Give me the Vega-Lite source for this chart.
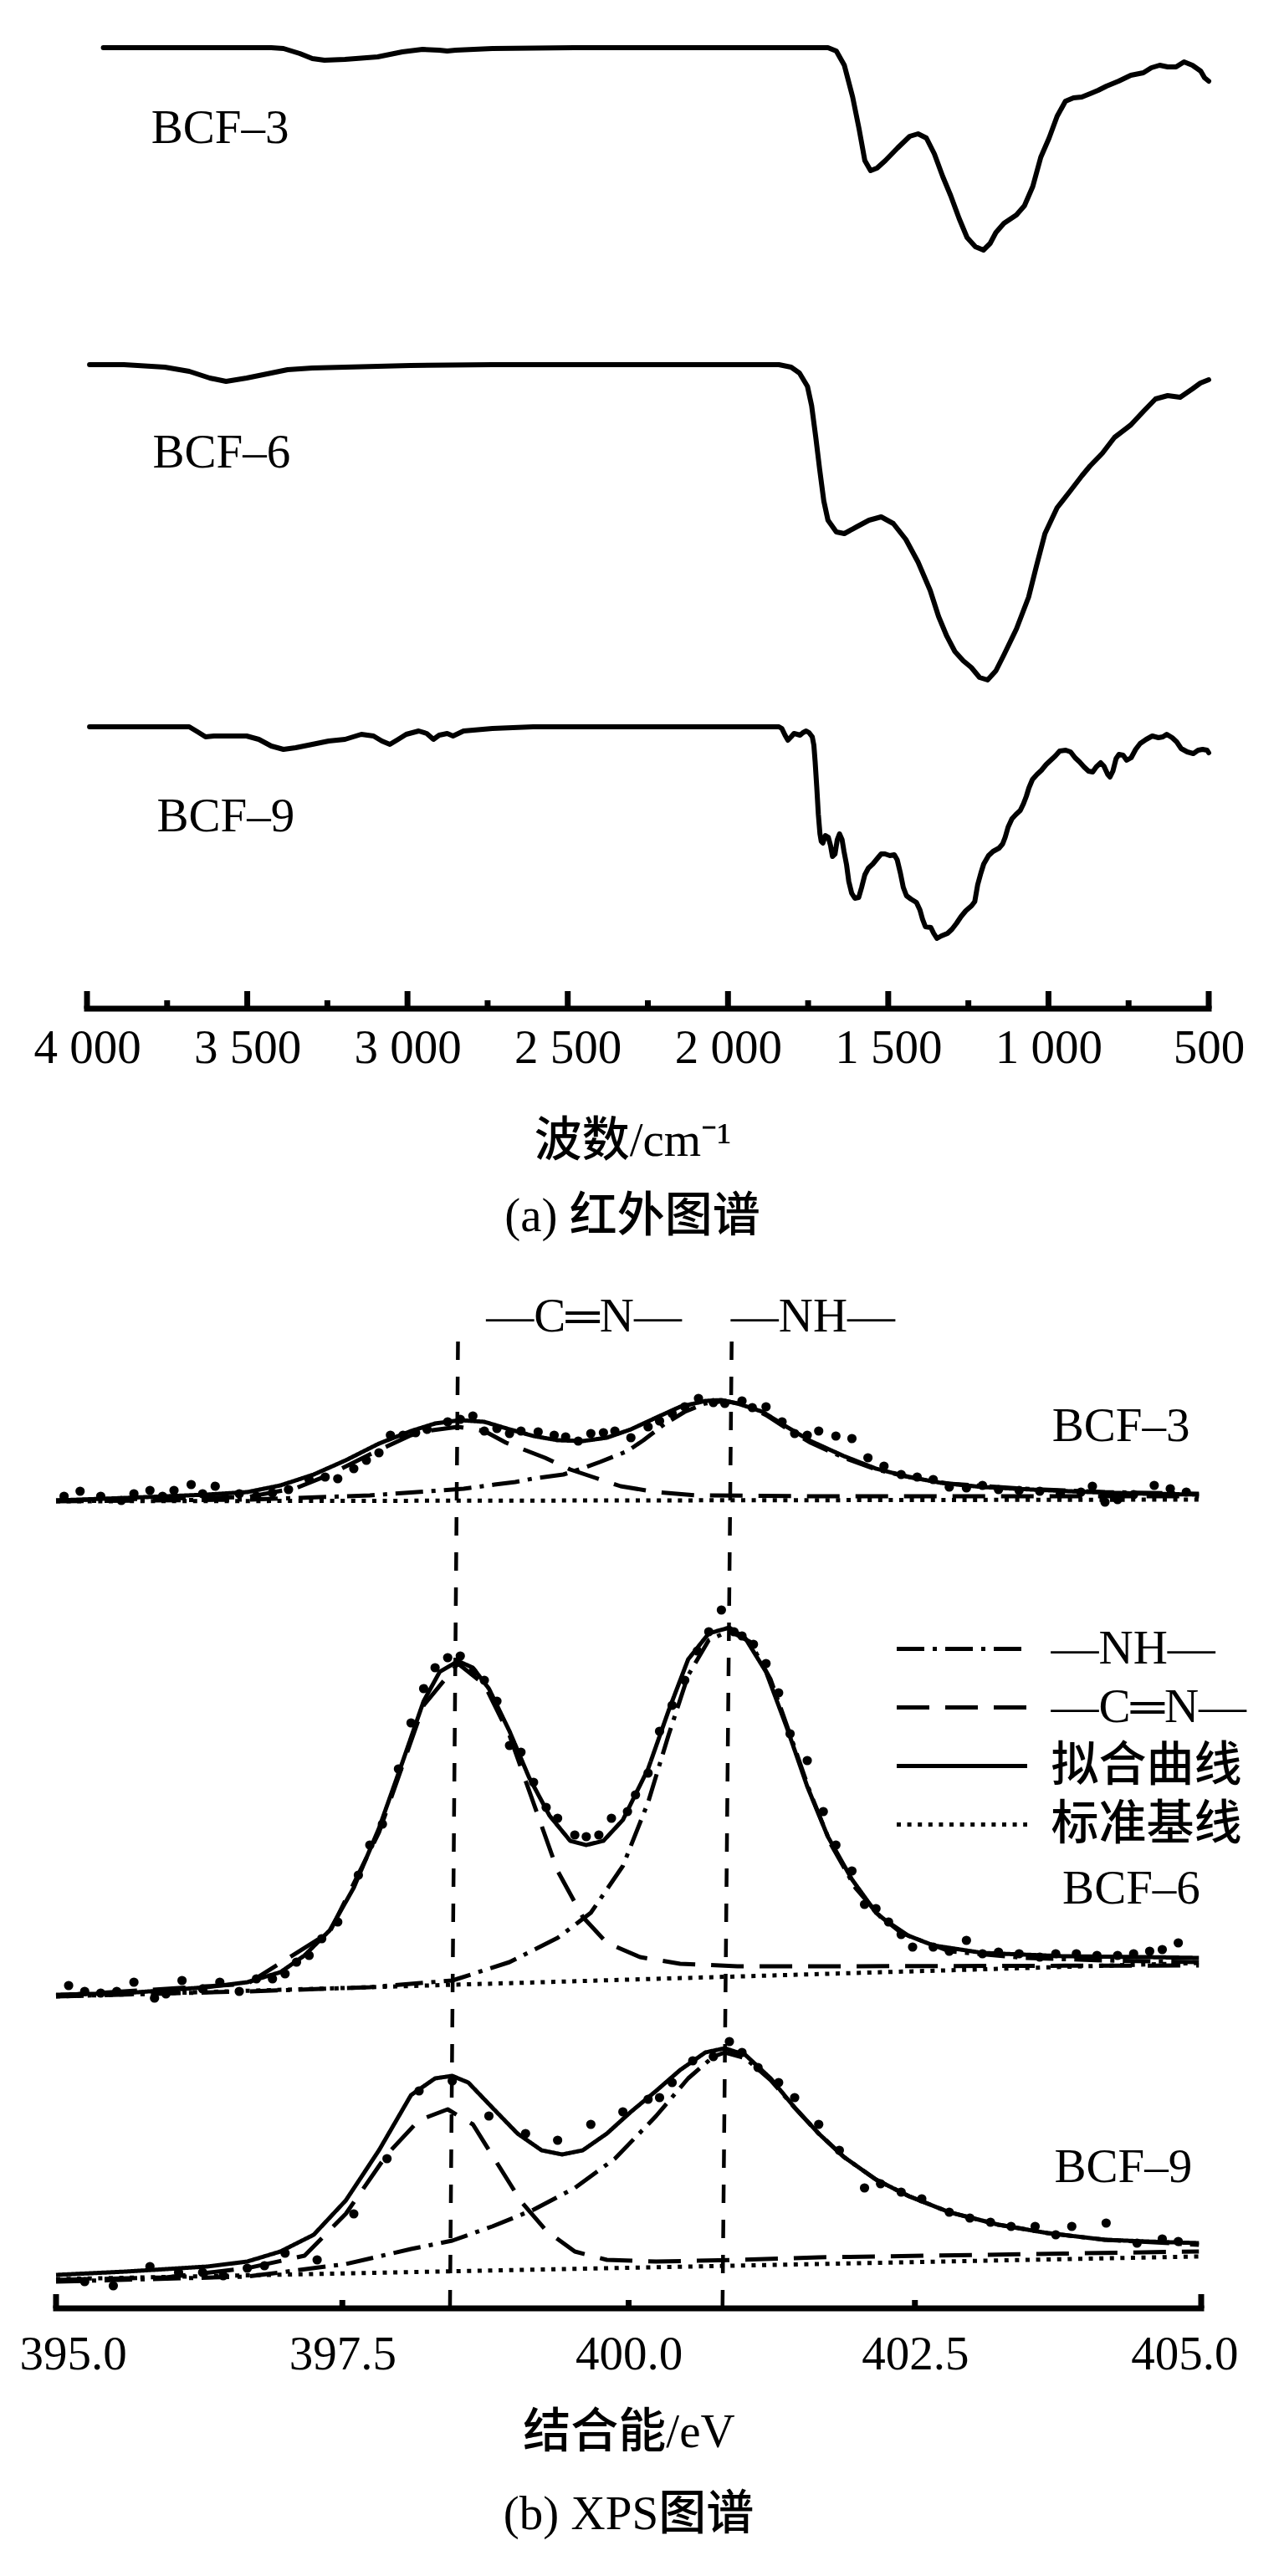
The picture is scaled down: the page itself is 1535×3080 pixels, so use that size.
{
  "$schema": "https://vega.github.io/schema/vega-lite/v6.json",
  "description": "IR and XPS spectra of BCF-3/6/9, stacked panels",
  "background": "white",
  "padding": {"left": 23, "top": 40, "right": 5, "bottom": 5},
  "bounds": "flush",
  "spacing": 334,
  "config": {
    "view": {"stroke": null},
    "font": "Liberation Serif, Noto Sans CJK SC",
    "axis": {
      "labelFont": "Liberation Serif",
      "labelFontSize": 57,
      "labelColor": "black",
      "titleFont": "Liberation Serif, Noto Sans CJK SC",
      "titleFontSize": 57,
      "titleFontWeight": 500,
      "titleColor": "black",
      "grid": false,
      "ticks": false,
      "tickSize": 0,
      "domain": false,
      "labelOverlap": false
    },
    "title": {"font": "Liberation Serif, Noto Sans CJK SC", "fontSize": 57, "fontWeight": 500, "color": "black"}
  },
  "datasets": {
    "ir": [
      {"s": "BCF-3", "wn": 3949, "t": 1149}, {"s": "BCF-3", "wn": 3425, "t": 1149}, {"s": "BCF-3", "wn": 3387, "t": 1148},
      {"s": "BCF-3", "wn": 3336, "t": 1142}, {"s": "BCF-3", "wn": 3297, "t": 1136}, {"s": "BCF-3", "wn": 3259, "t": 1134},
      {"s": "BCF-3", "wn": 3195, "t": 1135}, {"s": "BCF-3", "wn": 3093, "t": 1138}, {"s": "BCF-3", "wn": 3016, "t": 1144},
      {"s": "BCF-3", "wn": 2953, "t": 1147}, {"s": "BCF-3", "wn": 2901, "t": 1146}, {"s": "BCF-3", "wn": 2876, "t": 1145},
      {"s": "BCF-3", "wn": 2850, "t": 1146}, {"s": "BCF-3", "wn": 2735, "t": 1148}, {"s": "BCF-3", "wn": 2480, "t": 1149},
      {"s": "BCF-3", "wn": 1688, "t": 1149}, {"s": "BCF-3", "wn": 1662, "t": 1145}, {"s": "BCF-3", "wn": 1637, "t": 1128},
      {"s": "BCF-3", "wn": 1611, "t": 1090}, {"s": "BCF-3", "wn": 1591, "t": 1052}, {"s": "BCF-3", "wn": 1573, "t": 1014},
      {"s": "BCF-3", "wn": 1555, "t": 1002}, {"s": "BCF-3", "wn": 1535, "t": 1005}, {"s": "BCF-3", "wn": 1509, "t": 1014},
      {"s": "BCF-3", "wn": 1471, "t": 1029}, {"s": "BCF-3", "wn": 1433, "t": 1043}, {"s": "BCF-3", "wn": 1407, "t": 1046},
      {"s": "BCF-3", "wn": 1381, "t": 1041}, {"s": "BCF-3", "wn": 1356, "t": 1022}, {"s": "BCF-3", "wn": 1330, "t": 995},
      {"s": "BCF-3", "wn": 1305, "t": 972}, {"s": "BCF-3", "wn": 1279, "t": 945}, {"s": "BCF-3", "wn": 1254, "t": 922},
      {"s": "BCF-3", "wn": 1228, "t": 911}, {"s": "BCF-3", "wn": 1203, "t": 907}, {"s": "BCF-3", "wn": 1182, "t": 915},
      {"s": "BCF-3", "wn": 1164, "t": 928}, {"s": "BCF-3", "wn": 1139, "t": 939}, {"s": "BCF-3", "wn": 1100, "t": 949},
      {"s": "BCF-3", "wn": 1075, "t": 960}, {"s": "BCF-3", "wn": 1049, "t": 983}, {"s": "BCF-3", "wn": 1024, "t": 1018},
      {"s": "BCF-3", "wn": 998, "t": 1041}, {"s": "BCF-3", "wn": 973, "t": 1067}, {"s": "BCF-3", "wn": 947, "t": 1085},
      {"s": "BCF-3", "wn": 922, "t": 1089}, {"s": "BCF-3", "wn": 896, "t": 1090}, {"s": "BCF-3", "wn": 870, "t": 1094},
      {"s": "BCF-3", "wn": 845, "t": 1098}, {"s": "BCF-3", "wn": 819, "t": 1103}, {"s": "BCF-3", "wn": 781, "t": 1109},
      {"s": "BCF-3", "wn": 743, "t": 1116}, {"s": "BCF-3", "wn": 704, "t": 1119}, {"s": "BCF-3", "wn": 679, "t": 1125},
      {"s": "BCF-3", "wn": 653, "t": 1128}, {"s": "BCF-3", "wn": 628, "t": 1126}, {"s": "BCF-3", "wn": 602, "t": 1126},
      {"s": "BCF-3", "wn": 577, "t": 1132}, {"s": "BCF-3", "wn": 551, "t": 1128}, {"s": "BCF-3", "wn": 525, "t": 1121},
      {"s": "BCF-3", "wn": 513, "t": 1113}, {"s": "BCF-3", "wn": 500, "t": 1109},

      {"s": "BCF-6", "wn": 3992, "t": 770}, {"s": "BCF-6", "wn": 3885, "t": 770}, {"s": "BCF-6", "wn": 3757, "t": 767},
      {"s": "BCF-6", "wn": 3681, "t": 762}, {"s": "BCF-6", "wn": 3617, "t": 754}, {"s": "BCF-6", "wn": 3566, "t": 750},
      {"s": "BCF-6", "wn": 3502, "t": 754}, {"s": "BCF-6", "wn": 3425, "t": 760}, {"s": "BCF-6", "wn": 3374, "t": 764},
      {"s": "BCF-6", "wn": 3297, "t": 766}, {"s": "BCF-6", "wn": 3195, "t": 767}, {"s": "BCF-6", "wn": 2991, "t": 769},
      {"s": "BCF-6", "wn": 2735, "t": 770}, {"s": "BCF-6", "wn": 1841, "t": 770}, {"s": "BCF-6", "wn": 1803, "t": 767},
      {"s": "BCF-6", "wn": 1777, "t": 760}, {"s": "BCF-6", "wn": 1752, "t": 744}, {"s": "BCF-6", "wn": 1739, "t": 721},
      {"s": "BCF-6", "wn": 1726, "t": 683}, {"s": "BCF-6", "wn": 1714, "t": 645}, {"s": "BCF-6", "wn": 1701, "t": 607},
      {"s": "BCF-6", "wn": 1688, "t": 584}, {"s": "BCF-6", "wn": 1662, "t": 570}, {"s": "BCF-6", "wn": 1637, "t": 568},
      {"s": "BCF-6", "wn": 1599, "t": 576}, {"s": "BCF-6", "wn": 1560, "t": 584}, {"s": "BCF-6", "wn": 1522, "t": 588},
      {"s": "BCF-6", "wn": 1484, "t": 580}, {"s": "BCF-6", "wn": 1445, "t": 561}, {"s": "BCF-6", "wn": 1407, "t": 534},
      {"s": "BCF-6", "wn": 1369, "t": 500}, {"s": "BCF-6", "wn": 1343, "t": 469}, {"s": "BCF-6", "wn": 1318, "t": 446},
      {"s": "BCF-6", "wn": 1292, "t": 427}, {"s": "BCF-6", "wn": 1266, "t": 416}, {"s": "BCF-6", "wn": 1241, "t": 408},
      {"s": "BCF-6", "wn": 1215, "t": 396}, {"s": "BCF-6", "wn": 1190, "t": 393}, {"s": "BCF-6", "wn": 1164, "t": 404},
      {"s": "BCF-6", "wn": 1139, "t": 423}, {"s": "BCF-6", "wn": 1100, "t": 454}, {"s": "BCF-6", "wn": 1062, "t": 492},
      {"s": "BCF-6", "wn": 1037, "t": 530}, {"s": "BCF-6", "wn": 1011, "t": 568}, {"s": "BCF-6", "wn": 973, "t": 599},
      {"s": "BCF-6", "wn": 934, "t": 618}, {"s": "BCF-6", "wn": 896, "t": 637}, {"s": "BCF-6", "wn": 870, "t": 649},
      {"s": "BCF-6", "wn": 832, "t": 664}, {"s": "BCF-6", "wn": 794, "t": 683}, {"s": "BCF-6", "wn": 743, "t": 698},
      {"s": "BCF-6", "wn": 704, "t": 714}, {"s": "BCF-6", "wn": 666, "t": 729}, {"s": "BCF-6", "wn": 628, "t": 733},
      {"s": "BCF-6", "wn": 589, "t": 731}, {"s": "BCF-6", "wn": 551, "t": 741}, {"s": "BCF-6", "wn": 526, "t": 748},
      {"s": "BCF-6", "wn": 500, "t": 752},

      {"s": "BCF-9", "wn": 3992, "t": 337}, {"s": "BCF-9", "wn": 3681, "t": 337}, {"s": "BCF-9", "wn": 3655, "t": 331},
      {"s": "BCF-9", "wn": 3630, "t": 325}, {"s": "BCF-9", "wn": 3604, "t": 326}, {"s": "BCF-9", "wn": 3502, "t": 326},
      {"s": "BCF-9", "wn": 3464, "t": 322}, {"s": "BCF-9", "wn": 3425, "t": 314}, {"s": "BCF-9", "wn": 3387, "t": 310},
      {"s": "BCF-9", "wn": 3349, "t": 312}, {"s": "BCF-9", "wn": 3297, "t": 316}, {"s": "BCF-9", "wn": 3246, "t": 320},
      {"s": "BCF-9", "wn": 3195, "t": 322}, {"s": "BCF-9", "wn": 3144, "t": 328}, {"s": "BCF-9", "wn": 3106, "t": 326},
      {"s": "BCF-9", "wn": 3080, "t": 320}, {"s": "BCF-9", "wn": 3055, "t": 316}, {"s": "BCF-9", "wn": 3029, "t": 322},
      {"s": "BCF-9", "wn": 3004, "t": 328}, {"s": "BCF-9", "wn": 2965, "t": 332}, {"s": "BCF-9", "wn": 2940, "t": 329},
      {"s": "BCF-9", "wn": 2919, "t": 322}, {"s": "BCF-9", "wn": 2901, "t": 327}, {"s": "BCF-9", "wn": 2876, "t": 329},
      {"s": "BCF-9", "wn": 2858, "t": 326}, {"s": "BCF-9", "wn": 2825, "t": 332}, {"s": "BCF-9", "wn": 2735, "t": 335},
      {"s": "BCF-9", "wn": 2608, "t": 337}, {"s": "BCF-9", "wn": 1841, "t": 337}, {"s": "BCF-9", "wn": 1832, "t": 335},
      {"s": "BCF-9", "wn": 1822, "t": 327}, {"s": "BCF-9", "wn": 1813, "t": 321}, {"s": "BCF-9", "wn": 1803, "t": 325},
      {"s": "BCF-9", "wn": 1794, "t": 329}, {"s": "BCF-9", "wn": 1784, "t": 328}, {"s": "BCF-9", "wn": 1775, "t": 327},
      {"s": "BCF-9", "wn": 1766, "t": 330}, {"s": "BCF-9", "wn": 1756, "t": 332}, {"s": "BCF-9", "wn": 1747, "t": 330},
      {"s": "BCF-9", "wn": 1737, "t": 325}, {"s": "BCF-9", "wn": 1732, "t": 315}, {"s": "BCF-9", "wn": 1728, "t": 295},
      {"s": "BCF-9", "wn": 1723, "t": 265}, {"s": "BCF-9", "wn": 1718, "t": 232}, {"s": "BCF-9", "wn": 1713, "t": 209},
      {"s": "BCF-9", "wn": 1709, "t": 200}, {"s": "BCF-9", "wn": 1704, "t": 198}, {"s": "BCF-9", "wn": 1696, "t": 207},
      {"s": "BCF-9", "wn": 1687, "t": 205}, {"s": "BCF-9", "wn": 1680, "t": 195}, {"s": "BCF-9", "wn": 1674, "t": 182},
      {"s": "BCF-9", "wn": 1666, "t": 185}, {"s": "BCF-9", "wn": 1659, "t": 202}, {"s": "BCF-9", "wn": 1652, "t": 209},
      {"s": "BCF-9", "wn": 1644, "t": 202}, {"s": "BCF-9", "wn": 1638, "t": 188}, {"s": "BCF-9", "wn": 1630, "t": 172},
      {"s": "BCF-9", "wn": 1623, "t": 152}, {"s": "BCF-9", "wn": 1614, "t": 138}, {"s": "BCF-9", "wn": 1604, "t": 132},
      {"s": "BCF-9", "wn": 1592, "t": 133}, {"s": "BCF-9", "wn": 1583, "t": 145}, {"s": "BCF-9", "wn": 1573, "t": 160},
      {"s": "BCF-9", "wn": 1562, "t": 168}, {"s": "BCF-9", "wn": 1548, "t": 173}, {"s": "BCF-9", "wn": 1533, "t": 180},
      {"s": "BCF-9", "wn": 1522, "t": 185}, {"s": "BCF-9", "wn": 1510, "t": 185}, {"s": "BCF-9", "wn": 1495, "t": 183},
      {"s": "BCF-9", "wn": 1481, "t": 184}, {"s": "BCF-9", "wn": 1472, "t": 178}, {"s": "BCF-9", "wn": 1462, "t": 162},
      {"s": "BCF-9", "wn": 1453, "t": 145}, {"s": "BCF-9", "wn": 1443, "t": 135}, {"s": "BCF-9", "wn": 1429, "t": 131},
      {"s": "BCF-9", "wn": 1412, "t": 127}, {"s": "BCF-9", "wn": 1401, "t": 118}, {"s": "BCF-9", "wn": 1393, "t": 107},
      {"s": "BCF-9", "wn": 1384, "t": 98}, {"s": "BCF-9", "wn": 1367, "t": 97}, {"s": "BCF-9", "wn": 1358, "t": 90},
      {"s": "BCF-9", "wn": 1348, "t": 84}, {"s": "BCF-9", "wn": 1334, "t": 87}, {"s": "BCF-9", "wn": 1315, "t": 90},
      {"s": "BCF-9", "wn": 1301, "t": 95}, {"s": "BCF-9", "wn": 1287, "t": 102}, {"s": "BCF-9", "wn": 1273, "t": 110},
      {"s": "BCF-9", "wn": 1258, "t": 117}, {"s": "BCF-9", "wn": 1240, "t": 123}, {"s": "BCF-9", "wn": 1230, "t": 128},
      {"s": "BCF-9", "wn": 1221, "t": 148}, {"s": "BCF-9", "wn": 1211, "t": 162}, {"s": "BCF-9", "wn": 1202, "t": 173},
      {"s": "BCF-9", "wn": 1187, "t": 183}, {"s": "BCF-9", "wn": 1173, "t": 188}, {"s": "BCF-9", "wn": 1154, "t": 192},
      {"s": "BCF-9", "wn": 1143, "t": 197}, {"s": "BCF-9", "wn": 1135, "t": 205}, {"s": "BCF-9", "wn": 1126, "t": 217},
      {"s": "BCF-9", "wn": 1114, "t": 227}, {"s": "BCF-9", "wn": 1102, "t": 232}, {"s": "BCF-9", "wn": 1088, "t": 237},
      {"s": "BCF-9", "wn": 1078, "t": 245}, {"s": "BCF-9", "wn": 1069, "t": 254}, {"s": "BCF-9", "wn": 1061, "t": 264},
      {"s": "BCF-9", "wn": 1050, "t": 274}, {"s": "BCF-9", "wn": 1036, "t": 280}, {"s": "BCF-9", "wn": 1022, "t": 285},
      {"s": "BCF-9", "wn": 1007, "t": 292}, {"s": "BCF-9", "wn": 993, "t": 297}, {"s": "BCF-9", "wn": 979, "t": 302},
      {"s": "BCF-9", "wn": 965, "t": 308}, {"s": "BCF-9", "wn": 946, "t": 309}, {"s": "BCF-9", "wn": 931, "t": 307},
      {"s": "BCF-9", "wn": 917, "t": 300}, {"s": "BCF-9", "wn": 903, "t": 295}, {"s": "BCF-9", "wn": 889, "t": 289},
      {"s": "BCF-9", "wn": 875, "t": 284}, {"s": "BCF-9", "wn": 862, "t": 283}, {"s": "BCF-9", "wn": 851, "t": 289},
      {"s": "BCF-9", "wn": 837, "t": 294}, {"s": "BCF-9", "wn": 827, "t": 290}, {"s": "BCF-9", "wn": 815, "t": 280},
      {"s": "BCF-9", "wn": 808, "t": 277}, {"s": "BCF-9", "wn": 799, "t": 284}, {"s": "BCF-9", "wn": 789, "t": 299},
      {"s": "BCF-9", "wn": 780, "t": 304}, {"s": "BCF-9", "wn": 767, "t": 303}, {"s": "BCF-9", "wn": 756, "t": 297},
      {"s": "BCF-9", "wn": 742, "t": 300}, {"s": "BCF-9", "wn": 728, "t": 310}, {"s": "BCF-9", "wn": 714, "t": 317},
      {"s": "BCF-9", "wn": 695, "t": 322}, {"s": "BCF-9", "wn": 676, "t": 326}, {"s": "BCF-9", "wn": 657, "t": 324},
      {"s": "BCF-9", "wn": 643, "t": 325}, {"s": "BCF-9", "wn": 631, "t": 328}, {"s": "BCF-9", "wn": 614, "t": 324},
      {"s": "BCF-9", "wn": 600, "t": 319}, {"s": "BCF-9", "wn": 586, "t": 311}, {"s": "BCF-9", "wn": 567, "t": 307},
      {"s": "BCF-9", "wn": 548, "t": 305}, {"s": "BCF-9", "wn": 533, "t": 309}, {"s": "BCF-9", "wn": 519, "t": 310},
      {"s": "BCF-9", "wn": 505, "t": 309}, {"s": "BCF-9", "wn": 500, "t": 306}
    ],
    "irLabels": [
      {"label": "BCF–3", "wn": 3585, "t": 1052},
      {"label": "BCF–6", "wn": 3580, "t": 664},
      {"label": "BCF–9", "wn": 3567, "t": 229}
    ],
    "irTicks": [
      {"wn": 4000, "t": 0, "k": "major"}, {"wn": 3500, "t": 0, "k": "major"}, {"wn": 3000, "t": 0, "k": "major"},
      {"wn": 2500, "t": 0, "k": "major"}, {"wn": 2000, "t": 0, "k": "major"}, {"wn": 1500, "t": 0, "k": "major"},
      {"wn": 1000, "t": 0, "k": "major"}, {"wn": 500, "t": 0, "k": "major"},
      {"wn": 3750, "t": 0, "k": "minor"}, {"wn": 3250, "t": 0, "k": "minor"}, {"wn": 2750, "t": 0, "k": "minor"},
      {"wn": 2250, "t": 0, "k": "minor"}, {"wn": 1750, "t": 0, "k": "minor"}, {"wn": 1250, "t": 0, "k": "minor"},
      {"wn": 750, "t": 0, "k": "minor"}
    ],
    "irAxis": [{"wn": 4000, "t": 0}, {"wn": 500, "t": 0}],
    "xps": [
      {"s": "BCF-3", "c": "拟合曲线", "e": 395.00, "v": 966}, {"s": "BCF-3", "c": "拟合曲线", "e": 395.61, "v": 969},
      {"s": "BCF-3", "c": "拟合曲线", "e": 396.32, "v": 973}, {"s": "BCF-3", "c": "拟合曲线", "e": 396.67, "v": 976},
      {"s": "BCF-3", "c": "拟合曲线", "e": 396.96, "v": 984}, {"s": "BCF-3", "c": "拟合曲线", "e": 397.25, "v": 997},
      {"s": "BCF-3", "c": "拟合曲线", "e": 397.53, "v": 1014}, {"s": "BCF-3", "c": "拟合曲线", "e": 397.82, "v": 1034},
      {"s": "BCF-3", "c": "拟合曲线", "e": 398.10, "v": 1049}, {"s": "BCF-3", "c": "拟合曲线", "e": 398.31, "v": 1058},
      {"s": "BCF-3", "c": "拟合曲线", "e": 398.53, "v": 1062}, {"s": "BCF-3", "c": "拟合曲线", "e": 398.74, "v": 1060},
      {"s": "BCF-3", "c": "拟合曲线", "e": 398.96, "v": 1051}, {"s": "BCF-3", "c": "拟合曲线", "e": 399.17, "v": 1043},
      {"s": "BCF-3", "c": "拟合曲线", "e": 399.38, "v": 1038}, {"s": "BCF-3", "c": "拟合曲线", "e": 399.60, "v": 1037},
      {"s": "BCF-3", "c": "拟合曲线", "e": 399.81, "v": 1041}, {"s": "BCF-3", "c": "拟合曲线", "e": 400.02, "v": 1051},
      {"s": "BCF-3", "c": "拟合曲线", "e": 400.24, "v": 1065}, {"s": "BCF-3", "c": "拟合曲线", "e": 400.45, "v": 1078},
      {"s": "BCF-3", "c": "拟合曲线", "e": 400.67, "v": 1085}, {"s": "BCF-3", "c": "拟合曲线", "e": 400.81, "v": 1086},
      {"s": "BCF-3", "c": "拟合曲线", "e": 400.95, "v": 1082}, {"s": "BCF-3", "c": "拟合曲线", "e": 401.17, "v": 1072},
      {"s": "BCF-3", "c": "拟合曲线", "e": 401.38, "v": 1054}, {"s": "BCF-3", "c": "拟合曲线", "e": 401.59, "v": 1037},
      {"s": "BCF-3", "c": "拟合曲线", "e": 401.88, "v": 1019}, {"s": "BCF-3", "c": "拟合曲线", "e": 402.16, "v": 1004},
      {"s": "BCF-3", "c": "拟合曲线", "e": 402.45, "v": 994}, {"s": "BCF-3", "c": "拟合曲线", "e": 402.73, "v": 987},
      {"s": "BCF-3", "c": "拟合曲线", "e": 403.09, "v": 982}, {"s": "BCF-3", "c": "拟合曲线", "e": 403.52, "v": 979},
      {"s": "BCF-3", "c": "拟合曲线", "e": 404.02, "v": 976}, {"s": "BCF-3", "c": "拟合曲线", "e": 404.52, "v": 974},
      {"s": "BCF-3", "c": "拟合曲线", "e": 404.98, "v": 973},

      {"s": "BCF-3", "c": "—C═N—", "e": 395.00, "v": 966}, {"s": "BCF-3", "c": "—C═N—", "e": 396.67, "v": 970},
      {"s": "BCF-3", "c": "—C═N—", "e": 397.10, "v": 981}, {"s": "BCF-3", "c": "—C═N—", "e": 397.39, "v": 997},
      {"s": "BCF-3", "c": "—C═N—", "e": 397.74, "v": 1021}, {"s": "BCF-3", "c": "—C═N—", "e": 398.10, "v": 1044},
      {"s": "BCF-3", "c": "—C═N—", "e": 398.24, "v": 1049}, {"s": "BCF-3", "c": "—C═N—", "e": 398.51, "v": 1054},
      {"s": "BCF-3", "c": "—C═N—", "e": 398.74, "v": 1049}, {"s": "BCF-3", "c": "—C═N—", "e": 398.93, "v": 1035},
      {"s": "BCF-3", "c": "—C═N—", "e": 399.27, "v": 1017}, {"s": "BCF-3", "c": "—C═N—", "e": 399.49, "v": 1003},
      {"s": "BCF-3", "c": "—C═N—", "e": 399.71, "v": 993}, {"s": "BCF-3", "c": "—C═N—", "e": 399.93, "v": 983},
      {"s": "BCF-3", "c": "—C═N—", "e": 400.24, "v": 976}, {"s": "BCF-3", "c": "—C═N—", "e": 400.60, "v": 972},
      {"s": "BCF-3", "c": "—C═N—", "e": 401.66, "v": 971}, {"s": "BCF-3", "c": "—C═N—", "e": 404.98, "v": 971},

      {"s": "BCF-3", "c": "—NH—", "e": 395.00, "v": 965}, {"s": "BCF-3", "c": "—NH—", "e": 396.67, "v": 967},
      {"s": "BCF-3", "c": "—NH—", "e": 397.74, "v": 972}, {"s": "BCF-3", "c": "—NH—", "e": 398.56, "v": 980},
      {"s": "BCF-3", "c": "—NH—", "e": 398.83, "v": 985}, {"s": "BCF-3", "c": "—NH—", "e": 399.01, "v": 988},
      {"s": "BCF-3", "c": "—NH—", "e": 399.16, "v": 992}, {"s": "BCF-3", "c": "—NH—", "e": 399.43, "v": 997},
      {"s": "BCF-3", "c": "—NH—", "e": 399.59, "v": 1004}, {"s": "BCF-3", "c": "—NH—", "e": 399.75, "v": 1012},
      {"s": "BCF-3", "c": "—NH—", "e": 399.99, "v": 1025}, {"s": "BCF-3", "c": "—NH—", "e": 400.13, "v": 1038},
      {"s": "BCF-3", "c": "—NH—", "e": 400.31, "v": 1057}, {"s": "BCF-3", "c": "—NH—", "e": 400.49, "v": 1072},
      {"s": "BCF-3", "c": "—NH—", "e": 400.67, "v": 1082}, {"s": "BCF-3", "c": "—NH—", "e": 400.84, "v": 1085},
      {"s": "BCF-3", "c": "—NH—", "e": 401.02, "v": 1080}, {"s": "BCF-3", "c": "—NH—", "e": 401.20, "v": 1068},
      {"s": "BCF-3", "c": "—NH—", "e": 401.38, "v": 1052}, {"s": "BCF-3", "c": "—NH—", "e": 401.59, "v": 1035},
      {"s": "BCF-3", "c": "—NH—", "e": 401.88, "v": 1017}, {"s": "BCF-3", "c": "—NH—", "e": 402.16, "v": 1003},
      {"s": "BCF-3", "c": "—NH—", "e": 402.45, "v": 994}, {"s": "BCF-3", "c": "—NH—", "e": 402.80, "v": 986},
      {"s": "BCF-3", "c": "—NH—", "e": 403.45, "v": 980}, {"s": "BCF-3", "c": "—NH—", "e": 404.16, "v": 976},
      {"s": "BCF-3", "c": "—NH—", "e": 404.98, "v": 974},

      {"s": "BCF-3", "c": "标准基线", "e": 395.00, "v": 965}, {"s": "BCF-3", "c": "标准基线", "e": 404.98, "v": 967},

      {"s": "BCF-6", "c": "拟合曲线", "e": 395.00, "v": 375}, {"s": "BCF-6", "c": "拟合曲线", "e": 395.61, "v": 377},
      {"s": "BCF-6", "c": "拟合曲线", "e": 396.32, "v": 384}, {"s": "BCF-6", "c": "拟合曲线", "e": 396.67, "v": 390},
      {"s": "BCF-6", "c": "拟合曲线", "e": 396.96, "v": 402}, {"s": "BCF-6", "c": "拟合曲线", "e": 397.17, "v": 422},
      {"s": "BCF-6", "c": "拟合曲线", "e": 397.39, "v": 452}, {"s": "BCF-6", "c": "拟合曲线", "e": 397.60, "v": 503},
      {"s": "BCF-6", "c": "拟合曲线", "e": 397.82, "v": 574}, {"s": "BCF-6", "c": "拟合曲线", "e": 398.03, "v": 655},
      {"s": "BCF-6", "c": "拟合曲线", "e": 398.21, "v": 726}, {"s": "BCF-6", "c": "拟合曲线", "e": 398.35, "v": 761},
      {"s": "BCF-6", "c": "拟合曲线", "e": 398.51, "v": 774}, {"s": "BCF-6", "c": "拟合曲线", "e": 398.64, "v": 766},
      {"s": "BCF-6", "c": "拟合曲线", "e": 398.78, "v": 741}, {"s": "BCF-6", "c": "拟合曲线", "e": 398.96, "v": 690},
      {"s": "BCF-6", "c": "拟合曲线", "e": 399.13, "v": 635}, {"s": "BCF-6", "c": "拟合曲线", "e": 399.31, "v": 589},
      {"s": "BCF-6", "c": "拟合曲线", "e": 399.49, "v": 559}, {"s": "BCF-6", "c": "拟合曲线", "e": 399.63, "v": 554},
      {"s": "BCF-6", "c": "拟合曲线", "e": 399.78, "v": 559}, {"s": "BCF-6", "c": "拟合曲线", "e": 399.95, "v": 584},
      {"s": "BCF-6", "c": "拟合曲线", "e": 400.17, "v": 645}, {"s": "BCF-6", "c": "拟合曲线", "e": 400.35, "v": 715},
      {"s": "BCF-6", "c": "拟合曲线", "e": 400.52, "v": 776}, {"s": "BCF-6", "c": "拟合曲线", "e": 400.70, "v": 807},
      {"s": "BCF-6", "c": "拟合曲线", "e": 400.88, "v": 814}, {"s": "BCF-6", "c": "拟合曲线", "e": 401.02, "v": 801},
      {"s": "BCF-6", "c": "拟合曲线", "e": 401.20, "v": 761}, {"s": "BCF-6", "c": "拟合曲线", "e": 401.38, "v": 695},
      {"s": "BCF-6", "c": "拟合曲线", "e": 401.56, "v": 624}, {"s": "BCF-6", "c": "拟合曲线", "e": 401.74, "v": 564},
      {"s": "BCF-6", "c": "拟合曲线", "e": 401.95, "v": 513}, {"s": "BCF-6", "c": "拟合曲线", "e": 402.16, "v": 473},
      {"s": "BCF-6", "c": "拟合曲线", "e": 402.38, "v": 449}, {"s": "BCF-6", "c": "拟合曲线", "e": 402.66, "v": 434},
      {"s": "BCF-6", "c": "拟合曲线", "e": 403.09, "v": 425}, {"s": "BCF-6", "c": "拟合曲线", "e": 403.80, "v": 421},
      {"s": "BCF-6", "c": "拟合曲线", "e": 404.52, "v": 420}, {"s": "BCF-6", "c": "拟合曲线", "e": 404.98, "v": 419},

      {"s": "BCF-6", "c": "—C═N—", "e": 395.00, "v": 374}, {"s": "BCF-6", "c": "—C═N—", "e": 396.67, "v": 388},
      {"s": "BCF-6", "c": "—C═N—", "e": 397.39, "v": 450}, {"s": "BCF-6", "c": "—C═N—", "e": 397.82, "v": 569},
      {"s": "BCF-6", "c": "—C═N—", "e": 398.21, "v": 721}, {"s": "BCF-6", "c": "—C═N—", "e": 398.51, "v": 771},
      {"s": "BCF-6", "c": "—C═N—", "e": 398.74, "v": 746}, {"s": "BCF-6", "c": "—C═N—", "e": 398.96, "v": 685},
      {"s": "BCF-6", "c": "—C═N—", "e": 399.17, "v": 604}, {"s": "BCF-6", "c": "—C═N—", "e": 399.38, "v": 523},
      {"s": "BCF-6", "c": "—C═N—", "e": 399.60, "v": 468}, {"s": "BCF-6", "c": "—C═N—", "e": 399.81, "v": 437},
      {"s": "BCF-6", "c": "—C═N—", "e": 400.10, "v": 420}, {"s": "BCF-6", "c": "—C═N—", "e": 400.45, "v": 412},
      {"s": "BCF-6", "c": "—C═N—", "e": 400.95, "v": 409}, {"s": "BCF-6", "c": "—C═N—", "e": 401.66, "v": 409},
      {"s": "BCF-6", "c": "—C═N—", "e": 404.98, "v": 410},

      {"s": "BCF-6", "c": "—NH—", "e": 395.00, "v": 373}, {"s": "BCF-6", "c": "—NH—", "e": 396.67, "v": 379},
      {"s": "BCF-6", "c": "—NH—", "e": 397.74, "v": 384}, {"s": "BCF-6", "c": "—NH—", "e": 398.46, "v": 392},
      {"s": "BCF-6", "c": "—NH—", "e": 398.96, "v": 414}, {"s": "BCF-6", "c": "—NH—", "e": 399.38, "v": 443},
      {"s": "BCF-6", "c": "—NH—", "e": 399.67, "v": 473}, {"s": "BCF-6", "c": "—NH—", "e": 399.95, "v": 529},
      {"s": "BCF-6", "c": "—NH—", "e": 400.17, "v": 605}, {"s": "BCF-6", "c": "—NH—", "e": 400.35, "v": 686},
      {"s": "BCF-6", "c": "—NH—", "e": 400.52, "v": 757}, {"s": "BCF-6", "c": "—NH—", "e": 400.70, "v": 799},
      {"s": "BCF-6", "c": "—NH—", "e": 400.88, "v": 810}, {"s": "BCF-6", "c": "—NH—", "e": 401.06, "v": 797},
      {"s": "BCF-6", "c": "—NH—", "e": 401.24, "v": 752}, {"s": "BCF-6", "c": "—NH—", "e": 401.41, "v": 686},
      {"s": "BCF-6", "c": "—NH—", "e": 401.59, "v": 615}, {"s": "BCF-6", "c": "—NH—", "e": 401.77, "v": 554},
      {"s": "BCF-6", "c": "—NH—", "e": 401.98, "v": 503}, {"s": "BCF-6", "c": "—NH—", "e": 402.20, "v": 468},
      {"s": "BCF-6", "c": "—NH—", "e": 402.45, "v": 445}, {"s": "BCF-6", "c": "—NH—", "e": 402.80, "v": 427},
      {"s": "BCF-6", "c": "—NH—", "e": 403.45, "v": 419}, {"s": "BCF-6", "c": "—NH—", "e": 404.16, "v": 416},
      {"s": "BCF-6", "c": "—NH—", "e": 404.98, "v": 414},

      {"s": "BCF-6", "c": "标准基线", "e": 395.00, "v": 373}, {"s": "BCF-6", "c": "标准基线", "e": 404.98, "v": 413},

      {"s": "BCF-9", "c": "拟合曲线", "e": 395.00, "v": 40}, {"s": "BCF-9", "c": "拟合曲线", "e": 395.61, "v": 44},
      {"s": "BCF-9", "c": "拟合曲线", "e": 396.32, "v": 50}, {"s": "BCF-9", "c": "拟合曲线", "e": 396.67, "v": 56},
      {"s": "BCF-9", "c": "拟合曲线", "e": 396.96, "v": 68}, {"s": "BCF-9", "c": "拟合曲线", "e": 397.25, "v": 88},
      {"s": "BCF-9", "c": "拟合曲线", "e": 397.53, "v": 129}, {"s": "BCF-9", "c": "拟合曲线", "e": 397.82, "v": 189},
      {"s": "BCF-9", "c": "拟合曲线", "e": 398.10, "v": 255}, {"s": "BCF-9", "c": "拟合曲线", "e": 398.31, "v": 275},
      {"s": "BCF-9", "c": "拟合曲线", "e": 398.46, "v": 278}, {"s": "BCF-9", "c": "拟合曲线", "e": 398.60, "v": 270},
      {"s": "BCF-9", "c": "拟合曲线", "e": 398.81, "v": 240}, {"s": "BCF-9", "c": "拟合曲线", "e": 399.03, "v": 209},
      {"s": "BCF-9", "c": "拟合曲线", "e": 399.24, "v": 189}, {"s": "BCF-9", "c": "拟合曲线", "e": 399.42, "v": 184},
      {"s": "BCF-9", "c": "拟合曲线", "e": 399.60, "v": 189}, {"s": "BCF-9", "c": "拟合曲线", "e": 399.81, "v": 209},
      {"s": "BCF-9", "c": "拟合曲线", "e": 400.02, "v": 235}, {"s": "BCF-9", "c": "拟合曲线", "e": 400.24, "v": 260},
      {"s": "BCF-9", "c": "拟合曲线", "e": 400.45, "v": 285}, {"s": "BCF-9", "c": "拟合曲线", "e": 400.67, "v": 306},
      {"s": "BCF-9", "c": "拟合曲线", "e": 400.84, "v": 311}, {"s": "BCF-9", "c": "拟合曲线", "e": 401.02, "v": 303},
      {"s": "BCF-9", "c": "拟合曲线", "e": 401.24, "v": 275}, {"s": "BCF-9", "c": "拟合曲线", "e": 401.45, "v": 240},
      {"s": "BCF-9", "c": "拟合曲线", "e": 401.66, "v": 209}, {"s": "BCF-9", "c": "拟合曲线", "e": 401.88, "v": 181},
      {"s": "BCF-9", "c": "拟合曲线", "e": 402.16, "v": 154}, {"s": "BCF-9", "c": "拟合曲线", "e": 402.45, "v": 134},
      {"s": "BCF-9", "c": "拟合曲线", "e": 402.80, "v": 115}, {"s": "BCF-9", "c": "拟合曲线", "e": 403.23, "v": 100},
      {"s": "BCF-9", "c": "拟合曲线", "e": 403.66, "v": 90}, {"s": "BCF-9", "c": "拟合曲线", "e": 404.16, "v": 82},
      {"s": "BCF-9", "c": "拟合曲线", "e": 404.52, "v": 80}, {"s": "BCF-9", "c": "拟合曲线", "e": 404.98, "v": 78},

      {"s": "BCF-9", "c": "—C═N—", "e": 395.00, "v": 34}, {"s": "BCF-9", "c": "—C═N—", "e": 395.96, "v": 37},
      {"s": "BCF-9", "c": "—C═N—", "e": 396.67, "v": 48}, {"s": "BCF-9", "c": "—C═N—", "e": 397.17, "v": 63},
      {"s": "BCF-9", "c": "—C═N—", "e": 397.53, "v": 113}, {"s": "BCF-9", "c": "—C═N—", "e": 397.89, "v": 184},
      {"s": "BCF-9", "c": "—C═N—", "e": 398.17, "v": 225}, {"s": "BCF-9", "c": "—C═N—", "e": 398.42, "v": 238},
      {"s": "BCF-9", "c": "—C═N—", "e": 398.64, "v": 220}, {"s": "BCF-9", "c": "—C═N—", "e": 398.85, "v": 174},
      {"s": "BCF-9", "c": "—C═N—", "e": 399.06, "v": 128}, {"s": "BCF-9", "c": "—C═N—", "e": 399.28, "v": 93},
      {"s": "BCF-9", "c": "—C═N—", "e": 399.53, "v": 68}, {"s": "BCF-9", "c": "—C═N—", "e": 399.81, "v": 58},
      {"s": "BCF-9", "c": "—C═N—", "e": 400.24, "v": 56}, {"s": "BCF-9", "c": "—C═N—", "e": 400.95, "v": 58},
      {"s": "BCF-9", "c": "—C═N—", "e": 401.66, "v": 61}, {"s": "BCF-9", "c": "—C═N—", "e": 404.98, "v": 68},

      {"s": "BCF-9", "c": "—NH—", "e": 395.00, "v": 32}, {"s": "BCF-9", "c": "—NH—", "e": 396.67, "v": 38},
      {"s": "BCF-9", "c": "—NH—", "e": 397.53, "v": 53}, {"s": "BCF-9", "c": "—NH—", "e": 398.10, "v": 71},
      {"s": "BCF-9", "c": "—NH—", "e": 398.46, "v": 81}, {"s": "BCF-9", "c": "—NH—", "e": 398.81, "v": 98},
      {"s": "BCF-9", "c": "—NH—", "e": 399.17, "v": 118}, {"s": "BCF-9", "c": "—NH—", "e": 399.53, "v": 144},
      {"s": "BCF-9", "c": "—NH—", "e": 399.88, "v": 179}, {"s": "BCF-9", "c": "—NH—", "e": 400.24, "v": 230},
      {"s": "BCF-9", "c": "—NH—", "e": 400.52, "v": 275}, {"s": "BCF-9", "c": "—NH—", "e": 400.74, "v": 301},
      {"s": "BCF-9", "c": "—NH—", "e": 400.84, "v": 306}, {"s": "BCF-9", "c": "—NH—", "e": 401.02, "v": 299},
      {"s": "BCF-9", "c": "—NH—", "e": 401.24, "v": 273}, {"s": "BCF-9", "c": "—NH—", "e": 401.45, "v": 240},
      {"s": "BCF-9", "c": "—NH—", "e": 401.66, "v": 209}, {"s": "BCF-9", "c": "—NH—", "e": 401.88, "v": 181},
      {"s": "BCF-9", "c": "—NH—", "e": 402.16, "v": 154}, {"s": "BCF-9", "c": "—NH—", "e": 402.45, "v": 134},
      {"s": "BCF-9", "c": "—NH—", "e": 402.80, "v": 115}, {"s": "BCF-9", "c": "—NH—", "e": 403.23, "v": 100},
      {"s": "BCF-9", "c": "—NH—", "e": 403.66, "v": 90}, {"s": "BCF-9", "c": "—NH—", "e": 404.16, "v": 82},
      {"s": "BCF-9", "c": "—NH—", "e": 404.98, "v": 76},

      {"s": "BCF-9", "c": "标准基线", "e": 395.00, "v": 35}, {"s": "BCF-9", "c": "标准基线", "e": 404.98, "v": 62}
    ],
    "xpsDots": [
      {"s": "BCF-3", "e": 395.07, "v": 971}, {"s": "BCF-3", "e": 395.21, "v": 977}, {"s": "BCF-3", "e": 395.39, "v": 971},
      {"s": "BCF-3", "e": 395.57, "v": 966}, {"s": "BCF-3", "e": 395.68, "v": 974}, {"s": "BCF-3", "e": 395.82, "v": 978},
      {"s": "BCF-3", "e": 395.93, "v": 971}, {"s": "BCF-3", "e": 396.03, "v": 978}, {"s": "BCF-3", "e": 396.18, "v": 985},
      {"s": "BCF-3", "e": 396.28, "v": 974}, {"s": "BCF-3", "e": 396.39, "v": 983}, {"s": "BCF-3", "e": 396.60, "v": 974},
      {"s": "BCF-3", "e": 396.75, "v": 971}, {"s": "BCF-3", "e": 396.89, "v": 975}, {"s": "BCF-3", "e": 397.03, "v": 979},
      {"s": "BCF-3", "e": 397.21, "v": 991}, {"s": "BCF-3", "e": 397.35, "v": 994}, {"s": "BCF-3", "e": 397.46, "v": 992},
      {"s": "BCF-3", "e": 397.60, "v": 1004}, {"s": "BCF-3", "e": 397.71, "v": 1014}, {"s": "BCF-3", "e": 397.82, "v": 1023},
      {"s": "BCF-3", "e": 397.92, "v": 1044}, {"s": "BCF-3", "e": 398.03, "v": 1044}, {"s": "BCF-3", "e": 398.14, "v": 1047},
      {"s": "BCF-3", "e": 398.24, "v": 1051}, {"s": "BCF-3", "e": 398.42, "v": 1060}, {"s": "BCF-3", "e": 398.53, "v": 1063},
      {"s": "BCF-3", "e": 398.64, "v": 1067}, {"s": "BCF-3", "e": 398.74, "v": 1049}, {"s": "BCF-3", "e": 398.85, "v": 1052},
      {"s": "BCF-3", "e": 398.96, "v": 1046}, {"s": "BCF-3", "e": 399.06, "v": 1049}, {"s": "BCF-3", "e": 399.21, "v": 1048},
      {"s": "BCF-3", "e": 399.35, "v": 1044}, {"s": "BCF-3", "e": 399.45, "v": 1042}, {"s": "BCF-3", "e": 399.56, "v": 1037},
      {"s": "BCF-3", "e": 399.67, "v": 1046}, {"s": "BCF-3", "e": 399.78, "v": 1047}, {"s": "BCF-3", "e": 399.88, "v": 1049},
      {"s": "BCF-3", "e": 400.02, "v": 1041}, {"s": "BCF-3", "e": 400.17, "v": 1054}, {"s": "BCF-3", "e": 400.27, "v": 1061},
      {"s": "BCF-3", "e": 400.38, "v": 1070}, {"s": "BCF-3", "e": 400.49, "v": 1078}, {"s": "BCF-3", "e": 400.61, "v": 1088},
      {"s": "BCF-3", "e": 400.74, "v": 1083}, {"s": "BCF-3", "e": 400.84, "v": 1082}, {"s": "BCF-3", "e": 400.99, "v": 1085},
      {"s": "BCF-3", "e": 401.08, "v": 1077}, {"s": "BCF-3", "e": 401.20, "v": 1078}, {"s": "BCF-3", "e": 401.34, "v": 1060},
      {"s": "BCF-3", "e": 401.45, "v": 1046}, {"s": "BCF-3", "e": 401.56, "v": 1044}, {"s": "BCF-3", "e": 401.66, "v": 1049},
      {"s": "BCF-3", "e": 401.81, "v": 1043}, {"s": "BCF-3", "e": 401.95, "v": 1040}, {"s": "BCF-3", "e": 402.09, "v": 1017},
      {"s": "BCF-3", "e": 402.23, "v": 1007}, {"s": "BCF-3", "e": 402.38, "v": 997}, {"s": "BCF-3", "e": 402.52, "v": 994},
      {"s": "BCF-3", "e": 402.66, "v": 991}, {"s": "BCF-3", "e": 402.80, "v": 982}, {"s": "BCF-3", "e": 402.95, "v": 981},
      {"s": "BCF-3", "e": 403.09, "v": 984}, {"s": "BCF-3", "e": 403.23, "v": 979}, {"s": "BCF-3", "e": 403.41, "v": 978},
      {"s": "BCF-3", "e": 403.59, "v": 977}, {"s": "BCF-3", "e": 403.77, "v": 974}, {"s": "BCF-3", "e": 403.95, "v": 976},
      {"s": "BCF-3", "e": 404.05, "v": 983}, {"s": "BCF-3", "e": 404.16, "v": 964}, {"s": "BCF-3", "e": 404.27, "v": 967},
      {"s": "BCF-3", "e": 404.41, "v": 973}, {"s": "BCF-3", "e": 404.59, "v": 984}, {"s": "BCF-3", "e": 404.73, "v": 980},
      {"s": "BCF-3", "e": 404.87, "v": 976},

      {"s": "BCF-6", "e": 395.11, "v": 386}, {"s": "BCF-6", "e": 395.25, "v": 379}, {"s": "BCF-6", "e": 395.39, "v": 377},
      {"s": "BCF-6", "e": 395.53, "v": 379}, {"s": "BCF-6", "e": 395.68, "v": 390}, {"s": "BCF-6", "e": 395.86, "v": 371},
      {"s": "BCF-6", "e": 395.96, "v": 376}, {"s": "BCF-6", "e": 396.10, "v": 392}, {"s": "BCF-6", "e": 396.28, "v": 382},
      {"s": "BCF-6", "e": 396.43, "v": 390}, {"s": "BCF-6", "e": 396.60, "v": 379}, {"s": "BCF-6", "e": 396.75, "v": 394},
      {"s": "BCF-6", "e": 396.89, "v": 394}, {"s": "BCF-6", "e": 397.00, "v": 400}, {"s": "BCF-6", "e": 397.10, "v": 414},
      {"s": "BCF-6", "e": 397.21, "v": 422}, {"s": "BCF-6", "e": 397.32, "v": 442}, {"s": "BCF-6", "e": 397.46, "v": 462},
      {"s": "BCF-6", "e": 397.64, "v": 518}, {"s": "BCF-6", "e": 397.74, "v": 554}, {"s": "BCF-6", "e": 397.85, "v": 579},
      {"s": "BCF-6", "e": 397.99, "v": 645}, {"s": "BCF-6", "e": 398.10, "v": 700}, {"s": "BCF-6", "e": 398.21, "v": 741},
      {"s": "BCF-6", "e": 398.31, "v": 766}, {"s": "BCF-6", "e": 398.42, "v": 778}, {"s": "BCF-6", "e": 398.53, "v": 780},
      {"s": "BCF-6", "e": 398.64, "v": 761}, {"s": "BCF-6", "e": 398.74, "v": 751}, {"s": "BCF-6", "e": 398.85, "v": 726},
      {"s": "BCF-6", "e": 398.96, "v": 673}, {"s": "BCF-6", "e": 399.06, "v": 665}, {"s": "BCF-6", "e": 399.17, "v": 629},
      {"s": "BCF-6", "e": 399.28, "v": 599}, {"s": "BCF-6", "e": 399.38, "v": 586}, {"s": "BCF-6", "e": 399.53, "v": 566},
      {"s": "BCF-6", "e": 399.63, "v": 564}, {"s": "BCF-6", "e": 399.74, "v": 566}, {"s": "BCF-6", "e": 399.85, "v": 586},
      {"s": "BCF-6", "e": 399.99, "v": 594}, {"s": "BCF-6", "e": 400.06, "v": 614}, {"s": "BCF-6", "e": 400.17, "v": 640},
      {"s": "BCF-6", "e": 400.27, "v": 690}, {"s": "BCF-6", "e": 400.38, "v": 721}, {"s": "BCF-6", "e": 400.49, "v": 751},
      {"s": "BCF-6", "e": 400.60, "v": 786}, {"s": "BCF-6", "e": 400.70, "v": 809}, {"s": "BCF-6", "e": 400.81, "v": 835},
      {"s": "BCF-6", "e": 400.92, "v": 809}, {"s": "BCF-6", "e": 400.99, "v": 804}, {"s": "BCF-6", "e": 401.09, "v": 794},
      {"s": "BCF-6", "e": 401.20, "v": 771}, {"s": "BCF-6", "e": 401.31, "v": 736}, {"s": "BCF-6", "e": 401.41, "v": 687},
      {"s": "BCF-6", "e": 401.56, "v": 655}, {"s": "BCF-6", "e": 401.70, "v": 594}, {"s": "BCF-6", "e": 401.81, "v": 554},
      {"s": "BCF-6", "e": 401.95, "v": 523}, {"s": "BCF-6", "e": 402.06, "v": 483}, {"s": "BCF-6", "e": 402.16, "v": 478},
      {"s": "BCF-6", "e": 402.27, "v": 462}, {"s": "BCF-6", "e": 402.38, "v": 447}, {"s": "BCF-6", "e": 402.48, "v": 432},
      {"s": "BCF-6", "e": 402.66, "v": 432}, {"s": "BCF-6", "e": 402.80, "v": 427}, {"s": "BCF-6", "e": 402.95, "v": 440},
      {"s": "BCF-6", "e": 403.09, "v": 424}, {"s": "BCF-6", "e": 403.23, "v": 426}, {"s": "BCF-6", "e": 403.41, "v": 424},
      {"s": "BCF-6", "e": 403.59, "v": 420}, {"s": "BCF-6", "e": 403.73, "v": 424}, {"s": "BCF-6", "e": 403.91, "v": 424},
      {"s": "BCF-6", "e": 404.09, "v": 422}, {"s": "BCF-6", "e": 404.27, "v": 422}, {"s": "BCF-6", "e": 404.41, "v": 424},
      {"s": "BCF-6", "e": 404.55, "v": 427}, {"s": "BCF-6", "e": 404.66, "v": 429}, {"s": "BCF-6", "e": 404.80, "v": 437},

      {"s": "BCF-9", "e": 395.25, "v": 32}, {"s": "BCF-9", "e": 395.50, "v": 27}, {"s": "BCF-9", "e": 395.82, "v": 50},
      {"s": "BCF-9", "e": 396.07, "v": 43}, {"s": "BCF-9", "e": 396.28, "v": 43}, {"s": "BCF-9", "e": 396.46, "v": 39},
      {"s": "BCF-9", "e": 396.67, "v": 48}, {"s": "BCF-9", "e": 396.82, "v": 51}, {"s": "BCF-9", "e": 397.00, "v": 66},
      {"s": "BCF-9", "e": 397.28, "v": 58}, {"s": "BCF-9", "e": 397.60, "v": 113}, {"s": "BCF-9", "e": 397.89, "v": 179},
      {"s": "BCF-9", "e": 398.17, "v": 260}, {"s": "BCF-9", "e": 398.46, "v": 272}, {"s": "BCF-9", "e": 398.78, "v": 230},
      {"s": "BCF-9", "e": 399.10, "v": 209}, {"s": "BCF-9", "e": 399.38, "v": 201}, {"s": "BCF-9", "e": 399.67, "v": 220},
      {"s": "BCF-9", "e": 399.95, "v": 235}, {"s": "BCF-9", "e": 400.17, "v": 250}, {"s": "BCF-9", "e": 400.27, "v": 252},
      {"s": "BCF-9", "e": 400.38, "v": 270}, {"s": "BCF-9", "e": 400.56, "v": 296}, {"s": "BCF-9", "e": 400.74, "v": 301},
      {"s": "BCF-9", "e": 400.88, "v": 319}, {"s": "BCF-9", "e": 400.99, "v": 306}, {"s": "BCF-9", "e": 401.13, "v": 288},
      {"s": "BCF-9", "e": 401.31, "v": 270}, {"s": "BCF-9", "e": 401.45, "v": 252}, {"s": "BCF-9", "e": 401.66, "v": 220},
      {"s": "BCF-9", "e": 401.84, "v": 189}, {"s": "BCF-9", "e": 402.06, "v": 144}, {"s": "BCF-9", "e": 402.20, "v": 149},
      {"s": "BCF-9", "e": 402.38, "v": 139}, {"s": "BCF-9", "e": 402.56, "v": 131}, {"s": "BCF-9", "e": 402.80, "v": 115},
      {"s": "BCF-9", "e": 402.98, "v": 108}, {"s": "BCF-9", "e": 403.16, "v": 103}, {"s": "BCF-9", "e": 403.34, "v": 98},
      {"s": "BCF-9", "e": 403.55, "v": 98}, {"s": "BCF-9", "e": 403.73, "v": 88}, {"s": "BCF-9", "e": 403.87, "v": 98},
      {"s": "BCF-9", "e": 404.17, "v": 102}, {"s": "BCF-9", "e": 404.44, "v": 78}, {"s": "BCF-9", "e": 404.66, "v": 83},
      {"s": "BCF-9", "e": 404.80, "v": 80}
    ],
    "xpsGuides": [
      {"g": "C=N", "e": 398.51, "v": 1157}, {"g": "C=N", "e": 398.44, "v": 0},
      {"g": "NH", "e": 400.90, "v": 1157}, {"g": "NH", "e": 400.82, "v": 0}
    ],
    "xpsLabels": [
      {"label": "—C═N—", "e": 399.61, "v": 1185},
      {"label": "—NH—", "e": 401.61, "v": 1185},
      {"label": "BCF–3", "e": 404.30, "v": 1054},
      {"label": "BCF–6", "e": 404.39, "v": 501},
      {"label": "BCF–9", "e": 404.32, "v": 168}
    ],
    "xpsTicks": [
      {"e": 395, "v": 0, "k": "end"}, {"e": 397.5, "v": 0, "k": "inner"}, {"e": 400, "v": 0, "k": "inner"},
      {"e": 402.5, "v": 0, "k": "inner"}, {"e": 405, "v": 0, "k": "end"}
    ],
    "xpsAxis": [{"e": 395, "v": 0}, {"e": 405, "v": 0}]
  },
  "vconcat": [
    {
      "width": 1378,
      "height": 1166,
      "title": {"text": "(a) 红外图谱", "orient": "bottom", "offset": 35, "frame": "group", "anchor": "middle", "baseline": "top"},
      "encoding": {
        "x": {
          "field": "wn", "type": "quantitative",
          "scale": {"domain": [500, 4096.6], "reverse": true, "nice": false, "zero": false},
          "axis": {
            "values": [4000, 3500, 3000, 2500, 2000, 1500, 1000, 500],
            "labelExpr": "replace(format(datum.value, ','), ',', ' ')",
            "labelFlush": false,
            "labelPadding": 19,
            "title": "波数/cm⁻¹",
            "titlePadding": 55
          }
        },
        "y": {"field": "t", "type": "quantitative", "scale": {"domain": [0, 1166], "nice": false, "zero": false}, "axis": null}
      },
      "layer": [
        {
          "data": {"name": "ir"},
          "mark": {"type": "line", "color": "black", "strokeWidth": 6, "strokeJoin": "round", "strokeCap": "round"},
          "encoding": {"detail": {"field": "s"}}
        },
        {
          "data": {"name": "irLabels"},
          "mark": {"type": "text", "font": "Liberation Serif", "fontSize": 57, "color": "black", "align": "center", "baseline": "middle"},
          "encoding": {"text": {"field": "label"}}
        },
        {
          "data": {"name": "irAxis"},
          "mark": {"type": "line", "color": "black", "strokeWidth": 7, "strokeCap": "square"}
        },
        {
          "data": {"name": "irTicks"},
          "transform": [{"filter": "datum.k == 'major'"}],
          "mark": {"type": "tick", "orient": "vertical", "color": "black", "size": 21, "thickness": 7, "yOffset": -10.5, "opacity": 1}
        },
        {
          "data": {"name": "irTicks"},
          "transform": [{"filter": "datum.k == 'minor'"}],
          "mark": {"type": "tick", "orient": "vertical", "color": "black", "size": 10, "thickness": 7, "yOffset": -5, "opacity": 1}
        }
      ]
    },
    {
      "width": 1369,
      "height": 1220,
      "title": {"text": "(b) XPS图谱", "orient": "bottom", "offset": 43, "frame": "group", "anchor": "middle", "baseline": "top"},
      "encoding": {
        "x": {
          "field": "e", "type": "quantitative",
          "scale": {"domain": [395, 405], "nice": false, "zero": false},
          "axis": {
            "values": [395, 397.5, 400, 402.5, 405],
            "format": ".1f",
            "labelFlush": true,
            "labelFlushOffset": 44,
            "labelPadding": 27,
            "title": "结合能/eV",
            "titlePadding": 37
          }
        },
        "y": {"field": "v", "type": "quantitative", "scale": {"domain": [0, 1220], "nice": false, "zero": false}, "axis": null}
      },
      "layer": [
        {
          "data": {"name": "xpsGuides"},
          "mark": {"type": "line", "color": "black", "strokeWidth": 4.5, "strokeDash": [22, 20]},
          "encoding": {"detail": {"field": "g"}}
        },
        {
          "data": {"name": "xps"},
          "mark": {"type": "line", "color": "black", "strokeWidth": 5, "strokeJoin": "round"},
          "encoding": {
            "detail": {"field": "s"},
            "strokeDash": {
              "field": "c", "type": "nominal",
              "scale": {
                "domain": ["—NH—", "—C═N—", "拟合曲线", "标准基线"],
                "range": [[33, 10, 5, 10], [39, 19], [1, 0], [5, 7.6]]
              },
              "legend": {
                "orient": "none", "legendX": 1005, "legendY": 1903, "title": null, "padding": 0,
                "symbolType": "M-12,0H12", "symbolSize": 169, "symbolStrokeWidth": 5,
                "symbolStrokeColor": "black", "symbolFillColor": "transparent",
                "symbolOffset": 49.5, "labelOffset": 78, "rowPadding": 12,
                "labelFont": "Liberation Serif, Noto Sans CJK SC", "labelFontSize": 57,
                "labelFontWeight": 500, "labelColor": "black", "labelLimit": 0
              }
            }
          }
        },
        {
          "data": {"name": "xpsDots"},
          "mark": {"type": "point", "shape": "circle", "filled": true, "color": "black", "size": 125, "opacity": 1}
        },
        {
          "data": {"name": "xpsLabels"},
          "mark": {"type": "text", "font": "Liberation Serif, Noto Sans CJK SC", "fontSize": 57, "color": "black", "align": "center", "baseline": "middle"},
          "encoding": {"text": {"field": "label"}}
        },
        {
          "data": {"name": "xpsAxis"},
          "mark": {"type": "line", "color": "black", "strokeWidth": 7, "strokeCap": "square"}
        },
        {
          "data": {"name": "xpsTicks"},
          "transform": [{"filter": "datum.k == 'end'"}],
          "mark": {"type": "tick", "orient": "vertical", "color": "black", "size": 17, "thickness": 7, "yOffset": -8.5, "opacity": 1}
        },
        {
          "data": {"name": "xpsTicks"},
          "transform": [{"filter": "datum.k == 'inner'"}],
          "mark": {"type": "tick", "orient": "vertical", "color": "black", "size": 10, "thickness": 7, "yOffset": -5, "opacity": 1}
        }
      ]
    }
  ]
}
